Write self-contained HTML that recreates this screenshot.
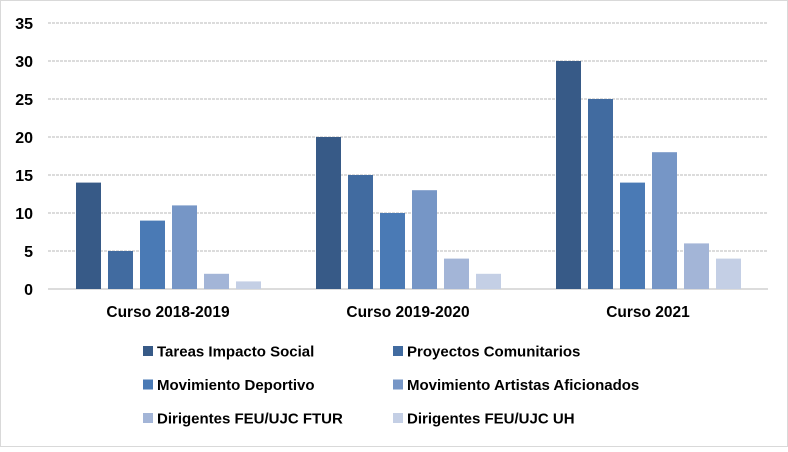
<!DOCTYPE html>
<html><head><meta charset="utf-8"><style>
body{margin:0;background:#fff}
svg text{font-family:"Liberation Sans",Arial,sans-serif;font-weight:bold;fill:#000}
</style></head><body>
<svg id="chart" width="788" height="447" xmlns="http://www.w3.org/2000/svg">
<rect x="0.5" y="0.5" width="787" height="446" fill="#fff" stroke="#d9d9d9"/>
<g id="grid"></g><g id="bars"></g><g id="axis"></g><g id="legend"></g>
</svg>
<script>
const categories=["Curso 2018-2019","Curso 2019-2020","Curso 2021"];
const seriesNames=["Tareas Impacto Social","Proyectos Comunitarios","Movimiento Deportivo","Movimiento Artistas Aficionados","Dirigentes FEU/UJC FTUR","Dirigentes FEU/UJC UH"];
const tareas=[14,20,30];
const proyectos=[5,15,25];
const deportivo=[9,10,14];
const artistas=[11,13,18];
const ftur=[2,4,6];
const uh=[1,2,4];
const yTicks=[0,5,10,15,20,25,30,35];
const series=[tareas,proyectos,deportivo,artistas,ftur,uh];
const colors=["#375a87","#416ba0","#4a7ab5","#7696c6","#a3b5d7","#c4cfe5"];
const NS="http://www.w3.org/2000/svg";
const x0=48,x1=768,y0=289,yTop=23,yMax=35;
const y=v=>y0-(v/yMax)*(y0-yTop);
const gw=(x1-x0)/categories.length;
function mk(t,a,p){const e=document.createElementNS(NS,t);for(const k in a)e.setAttribute(k,a[k]);p.appendChild(e);return e;}
const grid=document.getElementById('grid'),axis=document.getElementById('axis'),bars=document.getElementById('bars'),legend=document.getElementById('legend');
yTicks.forEach(t=>{
 const l=mk('line',{x1:x0,x2:x1,y1:y(t),y2:y(t),stroke:'#d0d0d0','stroke-width':1.5,'stroke-dasharray':t===0?'':'3,1'},grid);
 
 
 const tx=mk('text',{x:33,y:y(t)+6,'text-anchor':'end','font-size':16},axis);
 tx.textContent=t;
 
 
});
categories.forEach((c,i)=>{
 const tx=mk('text',{x:x0+gw*i+gw/2,y:317,'text-anchor':'middle','font-size':15.5},axis);
 tx.textContent=c;
 
 
 series.forEach((s,j)=>{
  const bx=x0+gw*i+28+32*j;
  const r=mk('rect',{x:bx,y:y(s[i]),width:25,height:y0-y(s[i]),fill:colors[j]},bars);
  
  
 });
});
seriesNames.forEach((n,j)=>{
 const col=j%2,row=Math.floor(j/2);
 const lx=col?393:143,ly=351+row*33.5;
 const g=mk('g',{},legend);
 
 
 mk('rect',{x:lx,y:ly-5,width:10,height:10,fill:colors[j]},g);
 const t=mk('text',{x:lx+14,y:ly+5.5,'font-size':15},g);
 t.textContent=n;
});
</script>
</body></html>
